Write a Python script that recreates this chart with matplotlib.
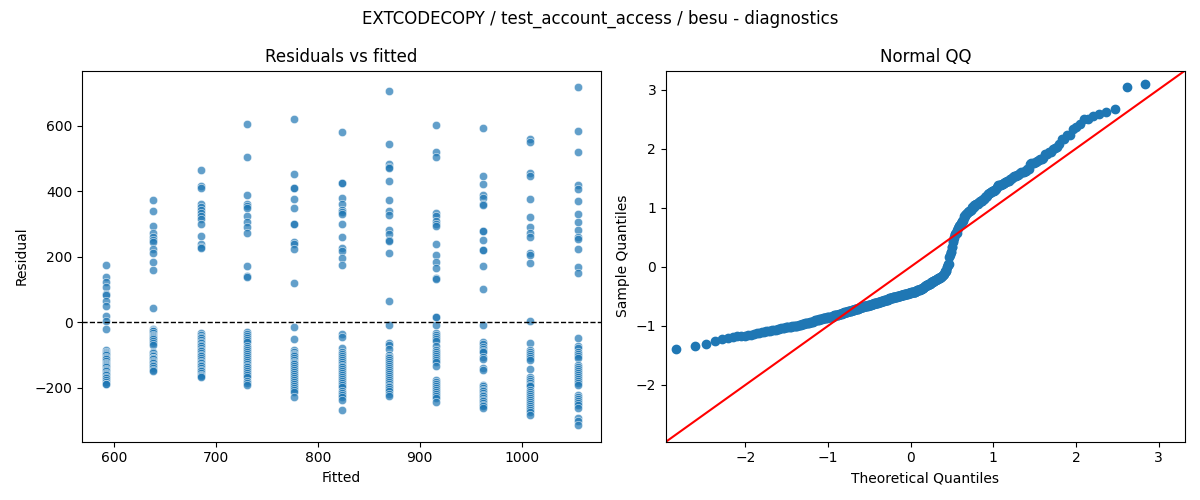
import matplotlib
matplotlib.use("Agg")
import matplotlib.pyplot as plt
import seaborn as sns
import numpy as np
from statistics import NormalDist

# fitted levels (x positions of the residual columns)
fitted_levels = [592, 638, 685, 731, 777, 824, 870, 916, 962, 1008, 1055]

# residuals
resid_592 = [176, 137, 122, 107, 85, 84, 66, 51, 19, 5, -21, -84, -90, -93, -96, -100,
             -107, -110, -113, -117, -123, -128, -131, -135, -138, -142, -145, -150,
             -155, -158, -162, -166, -170, -175, -182, -188, -189]
resid_638 = [374, 338, 295, 271, 261, 250, 246, 222, 212, 185, 159, 44, -20, -24, -26,
             -28, -33, -38, -42, -45, -47, -52, -58, -63, -68, -90, -95, -100, -104,
             -108, -110, -112, -117, -121, -125, -130, -135, -140, -145, -148]
resid_685 = [464, 415, 408, 360, 352, 342, 332, 325, 315, 300, 264, 240, 230, 227, -34,
             -38, -44, -49, -54, -59, -64, -69, -74, -79, -84, -89, -94, -99, -104,
             -109, -114, -120, -125, -130, -135, -140, -145, -150, -155, -160, -165, -168]
resid_731 = [606, 503, 387, 362, 355, 348, 324, 305, 290, 272, 171, 140, 139, -29, -35,
             -41, -47, -53, -60, -72, -78, -84, -90, -96, -102, -108, -114, -120, -126,
             -132, -138, -144, -150, -156, -162, -168, -180, -186, -190]
resid_777 = [621, 451, 408, 408, 375, 347, 300, 299, 245, 239, 222, 119, -15, -52, -84,
             -90, -98, -100, -104, -110, -116, -122, -125, -128, -134, -140, -146, -152,
             -158, -164, -170, -176, -182, -188, -194, -200, -206, -212, -228]
resid_824 = [579, 425, 425, 378, 362, 342, 335, 330, 300, 260, 227, 217, 195, 174, -37,
             -44, -79, -90, -96, -102, -108, -114, -120, -126, -132, -138, -144, -150,
             -156, -162, -168, -174, -180, -186, -192, -198, -210, -216, -222, -228,
             -237, -267]
resid_870 = [704, 543, 482, 472, 469, 430, 373, 340, 326, 280, 268, 251, 249, 210, 65,
             -8, -64, -70, -82, -100, -105, -110, -115, -121, -127, -133, -139, -145,
             -151, -157, -163, -169, -175, -181, -187, -193, -199, -205, -211, -218, -224]
resid_916 = [601, 519, 503, 332, 324, 310, 299, 293, 240, 205, 185, 165, 134, 133, 17, 15,
             -8, -34, -40, -46, -52, -58, -74, -86, -92, -98, -104, -110, -116, -122,
             -135, -176, -182, -188, -194, -200, -206, -212, -218, -224, -232, -242]
resid_962 = [591, 446, 423, 387, 379, 360, 358, 278, 277, 250, 221, 221, 171, 102, -8,
             -61, -66, -76, -82, -87, -92, -105, -112, -140, -145, -191, -196, -201,
             -206, -211, -216, -221, -226, -231, -236, -241, -246, -251, -256, -262]
resid_1008 = [560, 551, 454, 446, 375, 320, 290, 271, 261, 212, 204, 180, 5, -64, -84,
              -90, -96, -102, -108, -114, -143, -166, -172, -178, -184, -190, -196, -208,
              -214, -220, -226, -232, -238, -244, -250, -256, -262, -268, -275, -282]
resid_1055 = [716, 582, 519, 418, 407, 369, 330, 305, 280, 259, 253, 222, 167, 149, -49,
              -74, -80, -92, -98, -104, -110, -130, -136, -142, -148, -154, -160, -166,
              -172, -180, -186, -191, -222, -228, -234, -240, -246, -252, -262, -292,
              -302, -313]

groups = [resid_592, resid_638, resid_685, resid_731, resid_777, resid_824,
          resid_870, resid_916, resid_962, resid_1008, resid_1055]

fitted = np.concatenate([[f] * len(g) for f, g in zip(fitted_levels, groups)])
resid = np.concatenate([np.array(g, dtype=float) for g in groups])

# qq: standardized sorted residuals vs normal quantiles at i/(n+1)
n = len(resid)
sample_q = np.sort((resid - resid.mean()) / resid.std())
nd = NormalDist()
theo_q = np.array([nd.inv_cdf(i / (n + 1)) for i in range(1, n + 1)])

fig, (ax1, ax2) = plt.subplots(1, 2, figsize=(12, 5), dpi=100)

sns.scatterplot(x=fitted, y=resid, alpha=0.7, ax=ax1)
ax1.axhline(0, color="black", linestyle="--", linewidth=1)
ax1.set_title("Residuals vs fitted")
ax1.set_xlabel("Fitted")
ax1.set_ylabel("Residual")

ax2.plot(theo_q, sample_q, marker="o", linestyle="none",
         markerfacecolor="C0", markeredgecolor="C0")
lo, hi = -2.96, 3.32
ax2.plot([lo, hi], [lo, hi], "r-")
ax2.set_xlim(lo, hi)
ax2.set_ylim(lo, hi)
ax2.set_title("Normal QQ")
ax2.set_xlabel("Theoretical Quantiles")
ax2.set_ylabel("Sample Quantiles")

fig.suptitle("EXTCODECOPY / test_account_access / besu - diagnostics")
plt.tight_layout()
plt.savefig("out.png")
